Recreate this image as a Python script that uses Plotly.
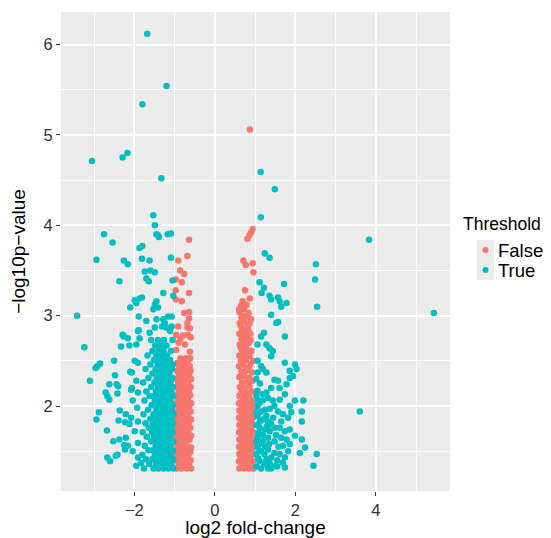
import plotly.graph_objects as go

# ---------------- data ----------------
# Threshold == False  (|log2FC| < 1), left group
false_left = [
    (-0.95,1.31),(-0.83,1.31),(-0.70,1.31),(-0.59,1.31),
    (-0.90,1.36),(-0.77,1.36),(-0.64,1.36),
    (-0.96,1.40),(-0.85,1.40),(-0.72,1.40),(-0.60,1.40),
    (-0.92,1.45),(-0.79,1.45),(-0.66,1.45),
    (-0.97,1.49),(-0.86,1.49),(-0.74,1.49),(-0.61,1.49),
    (-0.91,1.54),(-0.80,1.54),(-0.67,1.54),(-0.59,1.54),
    (-0.95,1.58),(-0.83,1.58),(-0.71,1.58),
    (-0.89,1.63),(-0.76,1.63),(-0.63,1.63),
    (-0.96,1.67),(-0.84,1.67),(-0.70,1.67),(-0.59,1.67),
    (-0.92,1.72),(-0.80,1.72),(-0.66,1.72),
    (-0.97,1.76),(-0.86,1.76),(-0.73,1.76),(-0.61,1.76),
    (-0.90,1.81),(-0.78,1.81),(-0.65,1.81),
    (-0.95,1.85),(-0.83,1.85),(-0.71,1.85),(-0.59,1.85),
    (-0.91,1.90),(-0.79,1.90),(-0.66,1.90),
    (-0.96,1.94),(-0.85,1.94),(-0.73,1.94),(-0.60,1.94),
    (-0.89,1.99),(-0.77,1.99),(-0.64,1.99),
    (-0.95,2.03),(-0.84,2.03),(-0.70,2.03),(-0.59,2.03),
    (-0.92,2.08),(-0.80,2.08),(-0.67,2.08),
    (-0.97,2.12),(-0.86,2.12),(-0.74,2.12),(-0.61,2.12),
    (-0.90,2.17),(-0.78,2.17),(-0.65,2.17),
    (-0.95,2.21),(-0.83,2.21),(-0.70,2.21),(-0.60,2.21),
    (-0.91,2.26),(-0.79,2.26),(-0.66,2.26),
    (-0.96,2.30),(-0.84,2.30),(-0.72,2.30),(-0.59,2.30),
    (-0.90,2.35),(-0.77,2.35),(-0.64,2.35),
    (-0.94,2.39),(-0.82,2.39),(-0.69,2.39),(-0.60,2.39),
    (-0.88,2.44),(-0.75,2.44),(-0.62,2.44),
    (-0.93,2.48),(-0.80,2.48),(-0.67,2.48),
    (-0.85,2.53),(-0.72,2.53),(-0.61,2.53),
    (-0.96,2.62),(-0.62,2.60),(-0.74,2.68),(-0.90,2.70),(-0.86,2.74),
    (-0.67,2.79),(-0.96,2.79),(-0.60,2.76),(-0.79,2.78),(-0.62,2.86),
    (-0.68,2.87),(-0.91,2.88),(-0.68,2.92),(-0.64,2.97),(-0.76,3.03),
    (-0.64,3.04),(-0.82,3.16),(-0.97,3.18),(-0.64,3.25),(-0.97,3.28),
    (-0.82,3.37),(-0.97,3.40),(-0.76,3.46),(-0.86,3.50),(-0.91,3.61),
    (-0.68,3.66),(-0.64,3.84),
]

# Threshold == False, right group
false_right = [
    (0.61,1.31),(0.72,1.31),(0.84,1.31),(0.96,1.31),
    (0.66,1.35),(0.78,1.35),(0.90,1.35),
    (0.60,1.39),(0.71,1.39),(0.83,1.39),(0.95,1.39),
    (0.65,1.43),(0.77,1.43),(0.89,1.43),
    (0.61,1.47),(0.72,1.47),(0.84,1.47),(0.97,1.47),
    (0.67,1.51),(0.79,1.51),(0.91,1.51),
    (0.60,1.55),(0.73,1.55),(0.85,1.55),(0.96,1.55),
    (0.66,1.59),(0.78,1.59),(0.90,1.59),
    (0.61,1.63),(0.72,1.63),(0.84,1.63),(0.95,1.63),
    (0.67,1.67),(0.79,1.67),(0.91,1.67),
    (0.60,1.71),(0.71,1.71),(0.83,1.71),(0.96,1.71),
    (0.65,1.75),(0.77,1.75),(0.89,1.75),
    (0.61,1.79),(0.73,1.79),(0.85,1.79),(0.97,1.79),
    (0.66,1.83),(0.78,1.83),(0.90,1.83),
    (0.60,1.87),(0.72,1.87),(0.84,1.87),(0.95,1.87),
    (0.67,1.91),(0.79,1.91),(0.91,1.91),
    (0.61,1.95),(0.73,1.95),(0.85,1.95),(0.96,1.95),
    (0.66,1.99),(0.78,1.99),(0.90,1.99),
    (0.60,2.03),(0.72,2.03),(0.84,2.03),(0.94,2.03),
    (0.67,2.07),(0.79,2.07),(0.90,2.07),
    (0.61,2.11),(0.73,2.11),(0.85,2.11),
    (0.66,2.15),(0.78,2.15),(0.92,2.16),
    (0.62,2.21),(0.74,2.20),(0.86,2.22),
    (0.68,2.26),(0.80,2.27),(0.94,2.28),
    (0.61,2.32),(0.73,2.33),(0.85,2.31),
    (0.66,2.38),(0.79,2.39),(0.92,2.37),
    (0.60,2.44),(0.71,2.45),(0.84,2.43),
    (0.65,2.50),(0.77,2.51),(0.95,2.50),
    (0.61,2.56),(0.72,2.57),(0.86,2.55),
    (0.67,2.62),(0.79,2.63),(0.91,2.61),
    (0.62,2.68),(0.74,2.69),(0.85,2.70),
    (0.66,2.74),(0.80,2.75),
    (0.61,2.80),(0.73,2.81),(0.88,2.80),
    (0.67,2.86),(0.81,2.87),
    (0.62,2.92),(0.74,2.93),(0.86,2.91),
    (0.66,2.98),(0.79,2.99),
    (0.61,3.04),(0.73,3.07),(0.60,3.07),
    (0.69,3.16),(0.87,3.19),(0.75,3.28),
    (0.70,2.35),(0.88,2.46),(0.69,2.53),(0.82,2.59),(0.64,2.65),
    (0.89,2.73),(0.70,2.77),(0.83,2.84),(0.64,2.89),(0.90,2.96),
    (0.71,3.00),(0.84,3.03),(0.65,3.11),(0.79,3.12),
    (0.71,3.61),(0.77,3.56),(0.94,3.58),(0.96,3.48),
    (0.81,3.85),(0.86,3.89),(0.90,3.92),(0.94,3.96),
    (0.87,5.06),
]

# Threshold == True, left group
true_left = [
    (-1.68,6.12),(-1.20,5.54),(-1.80,5.34),(-3.05,4.71),(-2.17,4.80),
    (-2.29,4.75),(-1.33,4.52),
    (-1.53,4.11),(-1.49,4.00),(-2.75,3.90),(-2.54,3.81),(-1.45,3.90),
    (-1.39,3.87),(-1.41,3.89),(-1.17,3.90),(-1.09,3.91),(-2.94,3.62),
    (-2.26,3.61),(-2.16,3.57),(-1.87,3.75),(-1.80,3.77),(-1.81,3.63),
    (-1.62,3.61),(-1.09,3.64),(-2.37,3.38),(-1.74,3.49),(-1.60,3.50),
    (-1.49,3.48),(-1.70,3.41),(-1.64,3.38),(-1.28,3.25),(-1.05,3.39),
    (-1.03,3.22),(-1.99,3.17),(-1.87,3.19),(-1.81,3.20),(-1.95,3.14),
    (-2.10,3.09),(-3.42,3.00),(-1.89,2.99),(-1.70,2.94),(-1.45,3.16),
    (-1.49,3.12),(-1.53,3.07),(-1.41,3.09),(-1.28,2.96),(-1.31,2.88),
    (-1.24,2.92),(-1.16,2.99),(-1.07,2.99),(-1.20,2.87),(-1.11,2.83),
    (-1.07,2.88),(-1.45,2.96),(-1.49,2.87),(-1.89,2.84),(-1.62,2.81),
    (-2.29,2.79),
    (-3.24,2.65),(-3.10,2.28),(-2.92,2.44),(-2.85,2.47),(-2.96,2.42),
    (-2.50,2.50),(-2.48,2.34),(-2.62,2.24),(-2.44,2.24),(-2.40,2.22),
    (-2.71,2.15),(-2.67,2.11),(-2.62,2.07),(-2.42,2.14),(-2.88,1.93),
    (-2.94,1.85),(-2.68,1.73),(-2.36,1.95),(-2.21,1.91),(-2.23,1.82),
    (-2.39,1.84),(-2.52,1.61),(-2.37,1.63),(-2.21,1.65),(-2.16,1.56),
    (-2.23,1.52),(-2.42,1.46),(-2.46,1.45),(-2.60,1.39),(-2.67,1.43),
    (-2.33,2.66),(-2.12,2.67),(-2.16,2.75),(-2.26,2.77),(-1.95,2.68),
    (-1.87,2.75),(-1.91,2.83),
    (-2.10,2.38),(-2.06,2.20),(-2.12,1.80),(-2.25,1.57),
    (-1.99,2.50),(-1.91,2.48),(-2.06,2.37),(-1.95,2.28),(-2.08,2.18),
    (-1.91,2.15),(-2.04,2.06),(-1.93,1.98),(-2.08,1.87),(-1.91,1.83),
    (-1.99,1.72),(-1.91,1.59),(-2.04,1.50),(-1.91,1.43),(-1.95,1.34),
    (-1.83,1.37),
    (-1.76,1.31),(-1.52,1.31),(-1.40,1.31),(-1.27,1.31),(-1.15,1.31),(-1.03,1.31),
    (-1.63,1.36),(-1.46,1.36),(-1.33,1.36),(-1.21,1.36),(-1.08,1.36),
    (-1.71,1.41),(-1.55,1.41),(-1.41,1.41),(-1.28,1.41),(-1.15,1.41),(-1.03,1.41),
    (-1.80,1.46),(-1.49,1.46),(-1.35,1.46),(-1.22,1.46),(-1.09,1.46),
    (-1.65,1.51),(-1.53,1.51),(-1.42,1.51),(-1.29,1.51),(-1.16,1.51),(-1.04,1.51),
    (-1.74,1.56),(-1.47,1.56),(-1.36,1.56),(-1.23,1.56),(-1.10,1.56),
    (-1.58,1.61),(-1.44,1.61),(-1.31,1.61),(-1.17,1.61),(-1.03,1.61),
    (-1.69,1.66),(-1.51,1.66),(-1.38,1.66),(-1.25,1.66),(-1.11,1.66),
    (-1.79,1.71),(-1.56,1.71),(-1.43,1.71),(-1.30,1.71),(-1.16,1.71),(-1.04,1.71),
    (-1.64,1.76),(-1.49,1.76),(-1.36,1.76),(-1.22,1.76),(-1.09,1.76),
    (-1.72,1.81),(-1.54,1.81),(-1.41,1.81),(-1.28,1.81),(-1.15,1.81),(-1.03,1.81),
    (-1.60,1.86),(-1.47,1.86),(-1.34,1.86),(-1.21,1.86),(-1.08,1.86),
    (-1.77,1.91),(-1.52,1.91),(-1.39,1.91),(-1.26,1.91),(-1.14,1.91),(-1.02,1.91),
    (-1.66,1.96),(-1.45,1.96),(-1.32,1.96),(-1.19,1.96),(-1.07,1.96),
    (-1.57,2.01),(-1.42,2.01),(-1.29,2.01),(-1.16,2.01),(-1.04,2.01),
    (-1.75,2.06),(-1.49,2.06),(-1.36,2.06),(-1.23,2.06),(-1.10,2.06),
    (-1.62,2.11),(-1.53,2.11),(-1.40,2.11),(-1.27,2.11),(-1.14,2.11),(-1.03,2.11),
    (-1.70,2.16),(-1.46,2.16),(-1.33,2.16),(-1.20,2.16),(-1.08,2.16),
    (-1.58,2.21),(-1.41,2.21),(-1.29,2.21),(-1.16,2.21),(-1.04,2.21),
    (-1.78,2.26),(-1.50,2.26),(-1.36,2.26),(-1.23,2.26),(-1.10,2.26),
    (-1.65,2.31),(-1.44,2.31),(-1.31,2.31),(-1.18,2.31),(-1.05,2.31),
    (-1.55,2.36),(-1.39,2.36),(-1.26,2.36),(-1.13,2.36),
    (-1.72,2.41),(-1.47,2.41),(-1.34,2.41),(-1.21,2.41),(-1.07,2.41),
    (-1.60,2.46),(-1.42,2.46),(-1.29,2.46),(-1.16,2.46),(-1.04,2.46),
    (-1.51,2.51),(-1.37,2.51),(-1.24,2.51),(-1.11,2.51),
    (-1.67,2.56),(-1.45,2.56),(-1.32,2.56),(-1.19,2.56),
    (-1.55,2.61),(-1.40,2.61),(-1.27,2.61),(-1.09,2.61),
    (-1.48,2.67),(-1.34,2.67),(-1.20,2.67),
    (-1.58,2.73),(-1.41,2.73),(-1.26,2.73),(-1.05,2.73),
]

# Threshold == True, right group
true_right = [
    (1.14,4.59),(1.49,4.40),(1.14,4.09),(1.24,3.69),(1.36,3.64),
    (2.51,3.57),(2.49,3.40),(2.54,3.10),(3.83,3.84),(5.44,3.03),(3.60,1.94),
    (1.11,3.37),(1.22,3.31),(1.16,3.25),(1.36,3.22),(1.40,3.18),(1.57,3.20),
    (1.61,3.16),(1.65,3.10),(1.78,3.14),(1.72,3.35),(1.40,3.01),(1.53,2.92),
    (1.57,2.93),(1.74,2.77),(1.22,2.81),(1.15,2.77),(1.06,2.68),(1.28,2.68),
    (1.36,2.64),(1.44,2.61),(1.40,2.55),(1.06,2.50),(1.15,2.44),(1.19,2.41),
    (1.28,2.37),(1.74,2.48),(1.86,2.39),(1.99,2.46),(2.03,2.41),(1.94,2.33),
    (1.86,2.31),(1.48,2.29),(1.57,2.28),(1.40,2.20),(1.61,2.20),(1.74,2.13),
    (1.78,2.24),(1.06,2.17),(1.19,2.13),(1.28,2.15),(1.32,2.09),(1.06,2.07),
    (1.19,2.06),(1.99,2.06),(2.20,2.06),(2.16,1.94),(2.16,1.83),(1.86,2.00),
    (1.90,1.93),(1.82,1.87),(1.69,1.91),(1.57,1.94),(1.48,2.00),(1.61,2.07),
    (1.44,2.06),(1.06,2.00),(1.15,1.94),(1.06,1.89),(1.19,1.85),(1.28,1.89),
    (1.32,1.83),(1.40,1.80),(1.11,1.76),(1.23,1.74),(1.36,1.72),(1.48,1.76),
    (1.61,1.76),(1.74,1.72),(1.86,1.74),(1.06,1.65),(1.19,1.61),(1.32,1.65),
    (1.48,1.61),(1.65,1.65),(1.78,1.63),(1.69,1.56),(1.86,1.58),(1.99,1.67),
    (2.16,1.63),(2.24,1.54),(2.53,1.47),(2.45,1.34),(2.11,1.48),
    (1.06,1.54),(1.15,1.50),(1.23,1.47),(1.32,1.52),(1.40,1.43),(1.48,1.48),
    (1.61,1.47),(1.74,1.43),(1.82,1.50),(1.11,1.39),(1.23,1.36),(1.36,1.37),
    (1.48,1.34),(1.69,1.37),(1.74,1.32),(1.15,1.31),(1.32,1.31),(1.40,1.31),
    (1.03,1.33),(1.08,1.42),(1.03,1.47),(1.10,1.58),(1.03,1.60),(1.08,1.70),
    (1.03,1.79),(1.12,1.83),(1.03,1.93),(1.10,2.03),(1.03,2.12),(1.12,2.25),
    (1.03,2.30),(1.06,2.37),(1.25,1.55),(1.28,1.41),(1.20,1.68),(1.30,1.78),
    (1.25,1.96),(1.37,1.97),(1.35,1.58),(1.55,1.40),(1.58,1.55),(1.52,1.68),
    (1.45,1.87),(1.65,1.83),(1.55,1.33),
]

legend_title = "Threshold"
legend_labels = ["False", "True"]

false_pts = false_left + false_right
true_pts = true_left + true_right

COL_FALSE = "#F8766D"
COL_TRUE = "#00BFC4"
FONT = "Liberation Sans, Arial, Helvetica, sans-serif"

# the page body adds an 8px offset; size the figure so the panel lands
# where the reference has it in the 551x538 window
OFF = 8
W, H = 551 - OFF, 538 - OFF
ML, MR, MT, MB = 61 - OFF, 101, 12 - OFF, 47
PW, PH = W - ML - MR, H - MT - MB


def px_x(px):  # window pixel -> paper x
    return (px - OFF - ML) / PW


def px_y(py):  # window pixel -> paper y
    return (H - MB - (py - OFF)) / PH


fig = go.Figure()
fig.add_trace(go.Scatter(
    x=[p[0] for p in false_pts], y=[p[1] for p in false_pts],
    mode="markers", name=legend_labels[0], showlegend=False,
    marker=dict(color=COL_FALSE, size=6.5, line=dict(width=0)),
))
fig.add_trace(go.Scatter(
    x=[p[0] for p in true_pts], y=[p[1] for p in true_pts],
    mode="markers", name=legend_labels[1], showlegend=False,
    marker=dict(color=COL_TRUE, size=6.5, line=dict(width=0)),
))

axis_common = dict(
    showline=False, zeroline=False, automargin=False,
    showgrid=True, gridcolor="white", gridwidth=2,
    ticks="outside", ticklen=4, tickwidth=1.2, tickcolor="#333333",
    tickfont=dict(family=FONT, size=16.5, color="#333333"),
)

# ggplot-like legend drawn manually (title, grey keys, dots, labels)
shapes = []
annotations = [dict(
    text=legend_title, xref="paper", yref="paper",
    x=px_x(461), y=px_y(224), xanchor="left", yanchor="middle",
    showarrow=False, font=dict(family=FONT, size=17.5, color="#000000"),
)]
key_tops = [240, 260]
for lab, col, top in zip(legend_labels, [COL_FALSE, COL_TRUE], key_tops):
    shapes.append(dict(
        type="rect", xref="paper", yref="paper",
        x0=px_x(476.5), x1=px_x(494), y0=px_y(top + 20), y1=px_y(top),
        fillcolor="#EBEBEB", line=dict(width=0), layer="below",
    ))
    shapes.append(dict(
        type="circle", xref="paper", yref="paper",
        xsizemode="pixel", ysizemode="pixel",
        xanchor=px_x(485.5), yanchor=px_y(top + 10),
        x0=-3, x1=3, y0=-3, y1=3,
        fillcolor=col, line=dict(width=0),
    ))
    annotations.append(dict(
        text=lab, xref="paper", yref="paper",
        x=px_x(496), y=px_y(top + 10), xanchor="left", yanchor="middle",
        showarrow=False, font=dict(family=FONT, size=18.5, color="#000000"),
    ))

fig.update_layout(
    width=W, height=H,
    margin=dict(l=ML, r=MR, t=MT, b=MB, autoexpand=False),
    paper_bgcolor="white", plot_bgcolor="#EBEBEB",
    font=dict(family=FONT, color="#000000"),
    showlegend=False,
    shapes=shapes,
    annotations=annotations,
    xaxis=dict(
        range=[-3.82, 5.84], tick0=0, dtick=2,
        minor=dict(tick0=-3, dtick=2, showgrid=True, gridcolor="white",
                   gridwidth=1, ticklen=0),
        title=dict(text="log2 fold-change", font=dict(family=FONT, size=19),
                   standoff=7),
        **axis_common,
    ),
    yaxis=dict(
        range=[1.06, 6.36], tick0=0, dtick=1,
        minor=dict(tick0=1.5, dtick=1, showgrid=True, gridcolor="white",
                   gridwidth=1, ticklen=0),
        title=dict(text="\u2212log10p\u2212value", font=dict(family=FONT, size=19),
                   standoff=12),
        **axis_common,
    ),
)

fig.write_html("out.html")
